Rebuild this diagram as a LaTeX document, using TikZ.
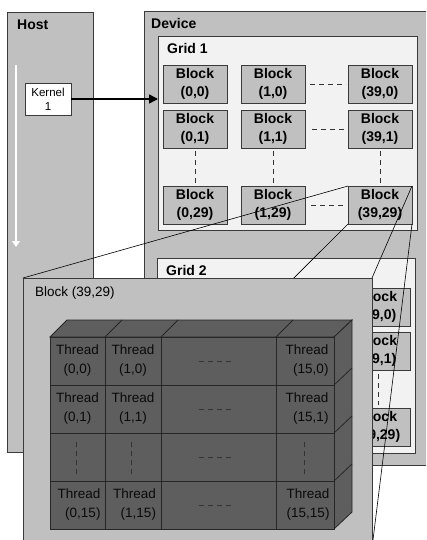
\documentclass[tikz,border=0pt]{standalone}
\usepackage{fontspec}
\setmainfont{Liberation Sans}
\usetikzlibrary{arrows.meta}
\definecolor{panel}{HTML}{C0C0C0}
\definecolor{gridbg}{HTML}{F2F2F2}
\definecolor{edge}{HTML}{3A3A3A}
\definecolor{thr}{HTML}{5E5E5E}
\definecolor{thrtxt}{HTML}{0A0A0A}
\begin{document}
\begin{tikzpicture}[x=1pt,y=-1pt,
  box/.style={draw=edge, line width=0.8pt, anchor=north west, inner sep=0pt, outer sep=0pt},
  pan/.style={box, fill=panel},
  gridbox/.style={box, fill=gridbg},
  blk/.style={box, fill=panel, minimum width=64pt, minimum height=38pt, align=center,
    font=\bfseries\fontsize{14}{18.5}\selectfont},
  lbl/.style={anchor=west, inner sep=0pt, font=\bfseries\fontsize{14}{16}\selectfont},
  cell/.style={box, fill=thr, draw=black!85, minimum height=48pt, align=center,
    text=thrtxt, font=\fontsize{13.5}{19}\selectfont},
  dots/.style={draw=black!80, line width=0.7pt, dash pattern=on 5pt off 4pt},
  proj/.style={draw=black, line width=0.6pt}]
\useasboundingbox (0,0) rectangle (426,540);
\clip (0,0) rectangle (426,540);
\fill[white] (0,0) rectangle (426,540);
% Host and device
\node[pan, minimum width=86pt, minimum height=440pt] (host) at (7,12) {};
\node[lbl] (hostlbl) at (17,25) {Host};
\node[pan, minimum width=290pt, minimum height=454pt] (device) at (144,11) {};
\node[lbl] (devlbl) at (151,23) {Device};
% Grid 1
\node[gridbox, minimum width=259pt, minimum height=194pt] (grid1) at (158,36) {};
\node[lbl] (g1lbl) at (167,48) {Grid 1};
\node[blk] (b00) at (163,65) {Block\\(0,0)};
\node[blk] (b10) at (241,65) {Block\\(1,0)};
\node[blk] (b390) at (348,65) {Block\\(39,0)};
\node[blk] (b01) at (163,110) {Block\\(0,1)};
\node[blk] (b11) at (241,110) {Block\\(1,1)};
\node[blk] (b391) at (348,110) {Block\\(39,1)};
\node[blk] (b029) at (163,186) {Block\\(0,29)};
\node[blk] (b129) at (241,186) {Block\\(1,29)};
\node[blk] (b3929) at (348,186) {Block\\(39,29)};
\draw[dots] ([xshift=5pt]b10.east) -- ([xshift=-2pt]b390.west);
\draw[dots] ([xshift=7pt]b11.east) -- ([xshift=-2pt]b391.west);
\draw[dots] ([xshift=6pt]b129.east) -- ([xshift=-2pt]b3929.west);
\draw[dots] ([yshift=-3pt]b01.south) -- ([yshift=3pt]b029.north);
\draw[dots] ([yshift=-3pt]b11.south) -- ([yshift=3pt]b129.north);
\draw[dots] ([yshift=-3pt]b391.south) -- ([yshift=3pt]b3929.north);
% Grid 2
\node[gridbox, minimum width=258pt, minimum height=195pt] (grid2) at (157,258) {};
\node[lbl] (g2lbl) at (166,270) {Grid 2};
\node[blk] (c390) at (346,288) {Block\\(39,0)};
\node[blk] (c391) at (346,332) {Block\\(39,1)};
\node[blk] (c3929) at (346,408) {Block\\(39,29)};
\draw[dots] ([yshift=-4pt]c391.south) -- ([yshift=3pt]c3929.north);
% enlarged block panel
\coordinate (ptl) at (23,278);
\coordinate (ptr) at (372,278);
\coordinate (pbl) at (23,548);
\coordinate (pbr) at (372,548);
\draw[proj] (b3929.north west) -- (ptl);
\draw[proj] (b3929.south west) -- (pbl);
\draw[proj] (b3929.north east) -- (ptr);
\draw[proj] (b3929.south east) -- (pbr);
\node[pan, minimum width=349pt, minimum height=270pt] (blkpanel) at (ptl) {};
\node[anchor=west, inner sep=0pt, font=\fontsize{13.5}{15}\selectfont] (bplbl) at (35,293) {Block (39,29)};
% 3D thread block
\fill[thr, draw=black!85, line width=0.8pt] (50,337) -- (67,320) -- (352,320) -- (334,337) -- cycle;
\fill[thr, draw=black!85, line width=0.8pt] (334,337) -- (352,320) -- (352,512) -- (334,529) -- cycle;
\foreach \xx in {105,161,276} \draw[black!85, line width=0.8pt] (\xx,337) -- (\xx+17,320);
\foreach \yy in {385,433,481} \draw[black!85, line width=0.8pt] (334,\yy) -- (352,\yy-17);
% row 0
\node[cell, minimum width=55pt] (t00) at (50,337) {Thread\\(0,0)};
\node[cell, minimum width=56pt] (t10) at (105,337) {Thread\\(1,0)};
\node[cell, minimum width=115pt] (t20) at (161,337) {};
\node[cell, minimum width=58pt, text width=47pt, align=right] (t30) at (276,337) {Thread\\(15,0)};
% row 1
\node[cell, minimum width=55pt] (t01) at (50,385) {Thread\\(0,1)};
\node[cell, minimum width=56pt] (t11) at (105,385) {Thread\\(1,1)};
\node[cell, minimum width=115pt] (t21) at (161,385) {};
\node[cell, minimum width=58pt, text width=47pt, align=right] (t31) at (276,385) {Thread\\(15,1)};
% row 2
\node[cell, minimum width=55pt] (t02) at (50,433) {};
\node[cell, minimum width=56pt] (t12) at (105,433) {};
\node[cell, minimum width=115pt] (t22) at (161,433) {};
\node[cell, minimum width=58pt] (t32) at (276,433) {};
% row 3
\node[cell, minimum width=55pt, text width=46pt, align=right] (t03) at (50,481) {Thread\\(0,15)};
\node[cell, minimum width=56pt, text width=46pt, align=right] (t13) at (105,481) {Thread\\(1,15)};
\node[cell, minimum width=115pt] (t23) at (161,481) {};
\node[cell, minimum width=58pt, text width=49pt, align=right] (t33) at (276,481) {Thread\\(15,15)};
\foreach \n in {t20,t21,t22,t23}
  \draw[dots] ([xshift=-20pt]\n.center) -- ([xshift=14pt]\n.center);
\draw[dots] ([xshift=-1.5pt,yshift=-17pt]t02.center) -- ([xshift=-1.5pt,yshift=18pt]t02.center);
\draw[dots] ([xshift=-2pt,yshift=-17pt]t12.center) -- ([xshift=-2pt,yshift=18pt]t12.center);
\draw[dots] ([xshift=-1pt,yshift=-17pt]t32.center) -- ([xshift=-1pt,yshift=18pt]t32.center);
% kernel and arrows
\coordinate (hs) at (16,65);
\coordinate (he) at (16,247);
\draw[white, line width=2pt, -{Triangle[width=8pt,length=6pt]}] (hs) -- (he);
\node[box, fill=white, minimum width=46pt, minimum height=32pt, align=center,
  font=\fontsize{11.5}{14}\selectfont] (kernel) at (25,83) {Kernel\\1};
\draw[black, line width=1.6pt, -{Triangle[width=9pt,length=9pt]}] (kernel.east) -- (kernel.east -| grid1.west);
\end{tikzpicture}
\end{document}
